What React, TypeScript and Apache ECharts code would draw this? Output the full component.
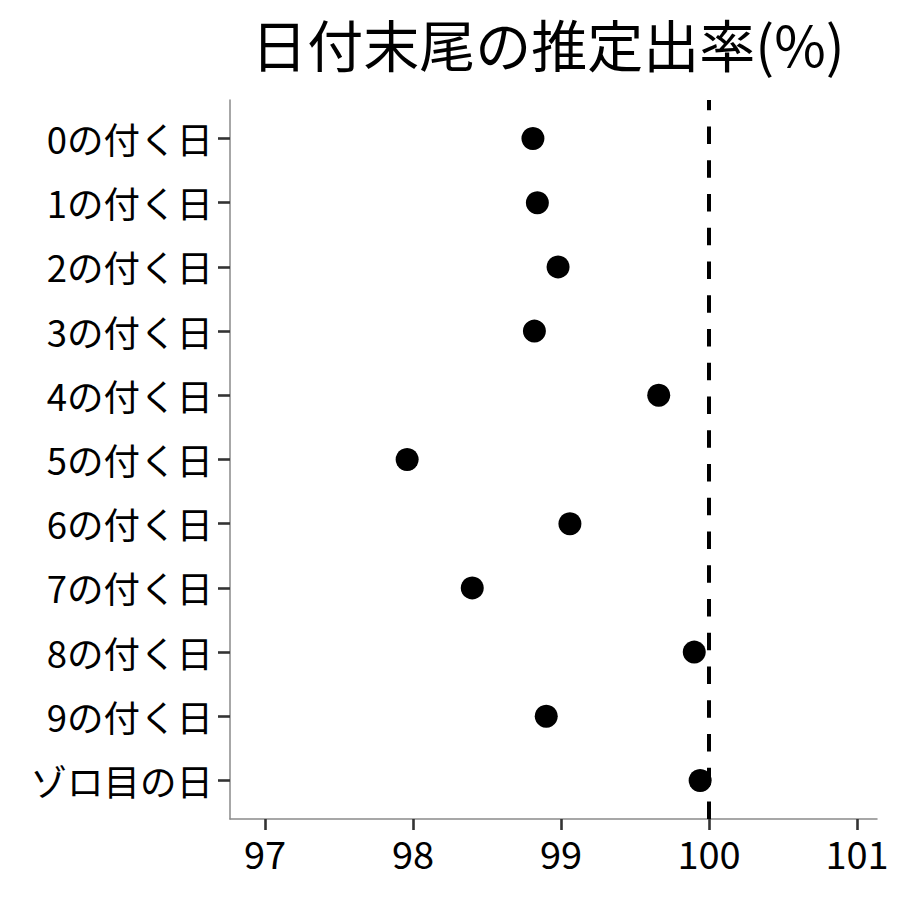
import React, { useEffect, useRef } from "react";
import * as echarts from "echarts";

const categories = [
  "0の付く日",
  "1の付く日",
  "2の付く日",
  "3の付く日",
  "4の付く日",
  "5の付く日",
  "6の付く日",
  "7の付く日",
  "8の付く日",
  "9の付く日",
  "ゾロ目の日",
];
const rates = [98.81, 98.84, 98.98, 98.82, 99.66, 97.96, 99.06, 98.4, 99.9, 98.9, 99.94];
const xTicks = [97, 98, 99, 100, 101];
const referenceValue = 100;
const titleText = "日付末尾の推定出率(%)";

const FONT = "'Noto Sans CJK JP', 'Noto Sans', sans-serif";

export default function App() {
  const ref = useRef<HTMLDivElement>(null);
  useEffect(() => {
    if (!ref.current) return;
    const chart = echarts.init(ref.current, null, { renderer: "svg" });
    const yIdx = categories.map((_, i) => i);
    chart.setOption({
      animation: false,
      backgroundColor: "#ffffff",
      title: {
        text: titleText,
        left: 548,
        textAlign: "center",
        top: 12,
        padding: 0,
        textStyle: { fontFamily: FONT, fontSize: 56, lineHeight: 60, fontWeight: "normal", color: "#000" },
      },
      grid: { left: 230, right: 23, top: 100, bottom: 81, containLabel: false },
      xAxis: {
        type: "value",
        min: 96.763,
        max: 101.135,
        splitLine: { show: false },
        axisLine: { show: true, onZero: false, lineStyle: { color: "#8a8a8a", width: 1.5 } },
        axisTick: { show: true, customValues: xTicks, length: 11, lineStyle: { color: "#333", width: 2.6 } },
        axisLabel: {
          customValues: xTicks,
          fontFamily: FONT,
          fontSize: 38,
          color: "#000",
          margin: 14,
        },
      },
      yAxis: {
        type: "value",
        inverse: true,
        min: -0.6,
        max: 10.6,
        splitLine: { show: false },
        axisLine: { show: true, onZero: false, lineStyle: { color: "#8a8a8a", width: 1.5 } },
        axisTick: { show: true, customValues: yIdx, length: 12, lineStyle: { color: "#333", width: 2.6 } },
        axisLabel: {
          customValues: yIdx,
          formatter: (v: number) => categories[Math.round(v)] ?? "",
          fontFamily: FONT,
          fontSize: 36.5,
          color: "#000",
          margin: 17,
        },
      },
      series: [
        {
          type: "scatter",
          data: rates.map((r, i) => [r, i]),
          symbol: "circle",
          symbolSize: 23,
          itemStyle: { color: "#000", opacity: 1 },
          z: 5,
          markLine: {
            silent: true,
            symbol: "none",
            label: { show: false },
            lineStyle: { color: "#000", width: 4, type: [17.5, 16.25], dashOffset: 0 },
            data: [
              [
                { coord: [referenceValue, 10.6] },
                { coord: [referenceValue, -0.6] },
              ],
            ],
          },
        },
      ],
    });
    return () => chart.dispose();
  }, []);
  return (
    <div
      ref={ref}
      style={{ position: "fixed", left: 0, top: 0, width: 900, height: 900, background: "#fff" }}
    />
  );
}
